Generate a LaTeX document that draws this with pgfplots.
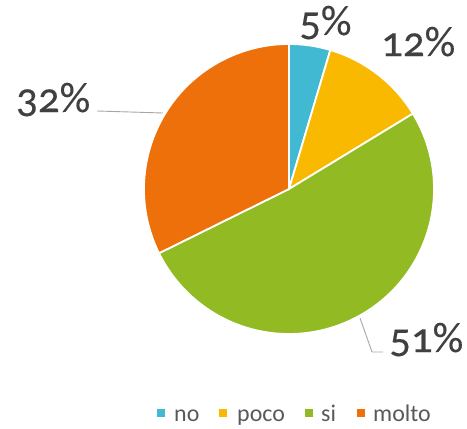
\documentclass[border=0pt]{standalone}
\usepackage{pgfplots}
\pgfplotsset{compat=1.18}
\usepackage{fontspec}
\setmainfont{Carlito}[Numbers=OldStyle]
\newfontfamily\labfont{Carlito}[Numbers=OldStyle, FakeBold=0.2]
\definecolor{cno}{HTML}{41B9D3}
\definecolor{cpoco}{HTML}{F9B900}
\definecolor{csi}{HTML}{92BB23}
\definecolor{cmolto}{HTML}{ED700A}
\definecolor{txt}{HTML}{404040}
\definecolor{lg}{HTML}{595959}
\definecolor{lead}{HTML}{A6A6A6}
\begin{document}
\begin{tikzpicture}
\begin{axis}[hide axis, scale only axis, x=1bp, y=1bp,
  xmin=0, xmax=467, ymin=0, ymax=428, clip=false]
\path (axis cs:0,0) rectangle (axis cs:467,428);
% slices: no 4.6, poco 11.7, si 51.4, molto 32.3 (clockwise from top)
\fill[cno, draw=white, line width=1.8bp] (axis cs:289,239) -- ++(90:145bp)
  arc[start angle=90, end angle={90-3.6*4.6}, radius=145bp] -- cycle;
\fill[cpoco, draw=white, line width=1.8bp] (axis cs:289,239) -- ++({90-3.6*4.6}:145bp)
  arc[start angle={90-3.6*4.6}, end angle={90-3.6*16.3}, radius=145bp] -- cycle;
\fill[csi, draw=white, line width=1.8bp] (axis cs:289,239) -- ++({90-3.6*16.3}:145bp)
  arc[start angle={90-3.6*16.3}, end angle={90-3.6*67.7}, radius=145bp] -- cycle;
\fill[cmolto, draw=white, line width=1.8bp] (axis cs:289,239) -- ++({90-3.6*67.7}:145bp)
  arc[start angle={90-3.6*67.7}, end angle={90-3.6*100}, radius=145bp] -- cycle;
% leader lines
\draw[lead, line width=0.9bp] (axis cs:97,317) -- (axis cs:163,315);
\draw[lead, line width=0.9bp] (axis cs:360,110) -- (axis cs:372,76) -- (axis cs:383,76);
% data labels
\node[anchor=base west, inner sep=0, text=txt, font=\labfont\fontsize{43}{43}\selectfont] at (axis cs:299,393) {5\%};
\node[anchor=base west, inner sep=0, text=txt, font=\labfont\fontsize{43}{43}\selectfont] at (axis cs:381,372) {12\%};
\node[anchor=base west, inner sep=0, text=txt, font=\labfont\fontsize{43}{43}\selectfont] at (axis cs:16,316) {32\%};
\node[anchor=base west, inner sep=0, text=txt, font=\labfont\fontsize{43}{43}\selectfont] at (axis cs:389,76) {51\%};
% legend
\fill[cno] (axis cs:157,11) rectangle (axis cs:165,19);
\node[anchor=base west, inner sep=0, text=lg, font=\fontsize{24}{24}\selectfont] at (axis cs:174,7) {no};
\fill[cpoco] (axis cs:219,11) rectangle (axis cs:227,19);
\node[anchor=base west, inner sep=0, text=lg, font=\fontsize{24}{24}\selectfont] at (axis cs:237,7) {poco};
\fill[csi] (axis cs:305,11) rectangle (axis cs:313,19);
\node[anchor=base west, inner sep=0, text=lg, font=\fontsize{24}{24}\selectfont] at (axis cs:321,7) {si};
\fill[cmolto] (axis cs:357,11) rectangle (axis cs:365,19);
\node[anchor=base west, inner sep=0, text=lg, font=\fontsize{24}{24}\selectfont] at (axis cs:373,7) {molto};
\end{axis}
\end{tikzpicture}
\end{document}
